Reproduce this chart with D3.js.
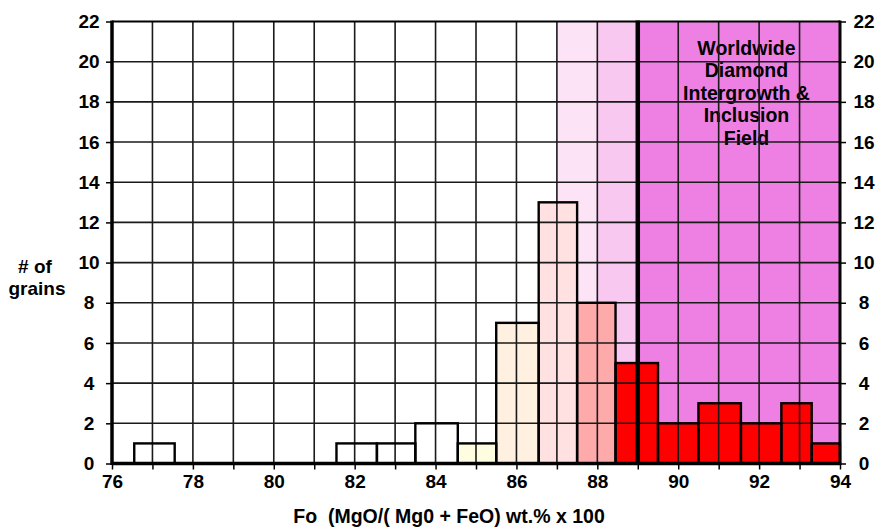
<!DOCTYPE html>
<html>
<head>
<meta charset="utf-8">
<script src="https://cdn.jsdelivr.net/npm/d3@7"></script>
<style>
  html, body { margin: 0; padding: 0; background: #fff; }
  svg text { font-family: "Liberation Sans", Arial, sans-serif; font-weight: bold; fill: #000; }
</style>
</head>
<body>
<svg id="chart" width="880" height="529"></svg>
<script>
// Olivine forsterite histogram: bin edges (Fo) and grain counts
const binStart = [76.55, 81.55, 82.55, 83.5, 84.55, 85.5, 86.55, 87.5, 88.45, 89.5, 90.5, 91.55, 92.55, 93.3];
const binEnd   = [77.55, 82.55, 83.5, 84.55, 85.5, 86.55, 87.5, 88.45, 89.5, 90.5, 91.55, 92.55, 93.3, 94];
const counts   = [1, 1, 1, 2, 1, 7, 13, 8, 5, 2, 3, 2, 3, 1];

// Shaded Fo ranges behind the bars
const zoneStart = [87, 88, 89];
const zoneEnd   = [88, 89, 94];

// Axis ticks
const xTicks = [76, 78, 80, 82, 84, 86, 88, 90, 92, 94];
const yTicks = [0, 2, 4, 6, 8, 10, 12, 14, 16, 18, 20, 22];

// Diamond field boundary and annotation
const diamondBoundary = 89;
const fieldLabel = ["Worldwide", "Diamond", "Intergrowth &", "Inclusion", "Field"];

const svg = d3.select("#chart");

const x = d3.scaleLinear().domain([76, 94]).range([112, 840]);
const y = d3.scaleLinear().domain([0, 22]).range([463.5, 21.5]);

// Bar fill by position along Fo
const barColor = d3.scaleThreshold()
  .domain([84.5, 85.5, 86.5, 87.5, 88.4])
  .range(["#ffffff", "#fffde0", "#fff0e0", "#ffe1e1", "#ffaaaa", "#ff0000"]);
const zoneColor = ["#fce3f6", "#f8c8f1", "#ee80e4"];

// Background zones
svg.append("g").selectAll("rect")
  .data(zoneStart.map((s, i) => ({ s, e: zoneEnd[i], i })))
  .join("rect")
  .attr("x", d => x(d.s))
  .attr("y", y(22))
  .attr("width", d => x(d.e) - x(d.s))
  .attr("height", y(0) - y(22))
  .attr("fill", d => zoneColor[d.i]);

// Histogram bars
const bins = binStart.map((s, i) => ({ s, e: binEnd[i], n: counts[i] }));
svg.append("g").selectAll("rect")
  .data(bins)
  .join("rect")
  .attr("x", d => x(d.s))
  .attr("y", d => y(d.n))
  .attr("width", d => x(d.e) - x(d.s))
  .attr("height", d => y(0) - y(d.n))
  .attr("fill", d => barColor(d.s));

// Field annotation
const cx = x(91.7) - 0.5;
svg.append("g").selectAll("text")
  .data(fieldLabel)
  .join("text")
  .attr("x", cx)
  .attr("y", (d, i) => 55 + i * 22.4)
  .attr("text-anchor", "middle")
  .attr("font-size", 19.5)
  .text(d => d);

// Grid lines
const grid = svg.append("g").attr("stroke", "#1a1a1a").attr("stroke-width", 1.6);
grid.selectAll("line.v")
  .data(d3.range(77, 94))
  .join("line")
  .attr("class", "v")
  .attr("x1", d => x(d)).attr("x2", d => x(d))
  .attr("y1", y(0)).attr("y2", y(22));
grid.selectAll("line.h")
  .data(d3.range(2, 22, 2))
  .join("line")
  .attr("class", "h")
  .attr("x1", x(76)).attr("x2", x(94))
  .attr("y1", d => y(d)).attr("y2", d => y(d));

// Bar outlines on top of grid
svg.append("g").selectAll("rect")
  .data(bins)
  .join("rect")
  .attr("x", d => x(d.s))
  .attr("y", d => y(d.n))
  .attr("width", d => x(d.e) - x(d.s))
  .attr("height", d => y(0) - y(d.n))
  .attr("fill", "none")
  .attr("stroke", "#000")
  .attr("stroke-width", 2.4);

// Axes
const axisStyle = g => {
  g.select(".domain").remove();
  g.selectAll(".tick line").attr("stroke", "#000").attr("stroke-width", 1.5);
  g.selectAll(".tick text").attr("font-size", 19).attr("fill", "#000")
    .style("font-family", "'Liberation Sans', Arial, sans-serif").style("font-weight", "bold");
};

svg.append("g")
  .attr("transform", `translate(${x(76)},0)`)
  .call(d3.axisLeft(y).tickValues(yTicks).tickSize(6).tickPadding(4))
  .call(axisStyle)
  .call(g => g.selectAll(".tick text").attr("text-anchor", "middle").attr("x", -23));

svg.append("g")
  .attr("transform", `translate(${x(94)},0)`)
  .call(d3.axisRight(y).tickValues(yTicks).tickSize(6).tickPadding(4))
  .call(axisStyle)
  .call(g => g.selectAll(".tick text").attr("text-anchor", "middle").attr("x", 24));

svg.append("g")
  .attr("transform", `translate(0,${y(0)})`)
  .call(d3.axisBottom(x).ticks(18).tickFormat(d => xTicks.includes(d) ? d : "").tickSize(6).tickPadding(5))
  .call(axisStyle);

// Plot frame
const frame = svg.append("g").attr("stroke", "#000").attr("fill", "none");
frame.append("line").attr("x1", x(76)).attr("x2", x(94)).attr("y1", y(22)).attr("y2", y(22)).attr("stroke-width", 2);
frame.append("line").attr("x1", x(76)).attr("x2", x(94)).attr("y1", y(0)).attr("y2", y(0)).attr("stroke-width", 3.5);
frame.append("line").attr("x1", x(76)).attr("x2", x(76)).attr("y1", y(22) - 1).attr("y2", y(0) + 1.5).attr("stroke-width", 3.5);
frame.append("line").attr("x1", x(94)).attr("x2", x(94)).attr("y1", y(22) - 1).attr("y2", y(0) + 1.5).attr("stroke-width", 3);
frame.append("line").attr("x1", x(diamondBoundary)).attr("x2", x(diamondBoundary))
  .attr("y1", y(22) - 1).attr("y2", y(0) + 1.5).attr("stroke-width", 4.5);

// Axis titles
svg.append("text")
  .attr("x", 449).attr("y", 523)
  .attr("text-anchor", "middle")
  .attr("font-size", 19.5)
  .attr("xml:space", "preserve")
  .text("Fo  (MgO/( Mg0 + FeO) wt.% x 100");

const yTitle = svg.append("text").attr("text-anchor", "middle").attr("font-size", 19);
yTitle.append("tspan").attr("x", 35).attr("y", 273).text("# of");
yTitle.append("tspan").attr("x", 37).attr("y", 295).text("grains");
</script>
</body>
</html>
